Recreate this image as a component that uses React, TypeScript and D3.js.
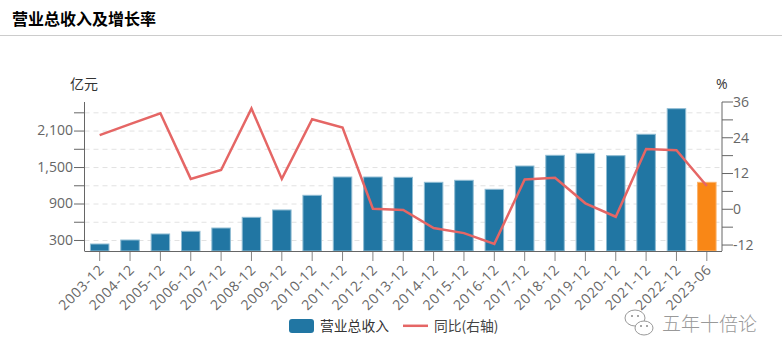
import React from "react";
import * as d3 from "d3";

const categories = ["2003-12","2004-12","2005-12","2006-12","2007-12","2008-12","2009-12","2010-12","2011-12","2012-12","2013-12","2014-12","2015-12","2016-12","2017-12","2018-12","2019-12","2020-12","2021-12","2022-12","2023-06"];
const revenue = [242,308,407,451,505,681,802,1043,1344,1344,1339,1257,1290,1142,1525,1701,1734,1695,2047,2468,1257];
const growth = [24.9,28.6,32.2,10.2,13.2,33.8,10.2,30.2,27.4,0.2,-0.2,-6.3,-8,-11.6,10,10.6,2,-2.5,20.2,19.8,7.8];
const leftTicks = [300,600,900,1200,1500,1800,2100,2400];
const leftLabels = [300,900,1500,2100];
const rightTicks = [-12,-6,0,6,12,18,24,30,36];
const rightLabels = [-12,0,12,24,36];

const font = "'Open Sans','Noto Sans CJK SC',sans-serif";
const cjk = "'Noto Sans CJK SC',sans-serif";
const L = 84.5, R = 722, T = 102, B = 251;
const axisColor = "#666";

export default function App() {
  const x = d3.scaleBand<string>().domain(categories).range([L, R]).paddingInner(0.39).paddingOuter(0.195);
  const yL = d3.scaleLinear().domain([127, 2578]).range([B, T]);
  const yR = d3.scaleLinear().domain([-14, 36]).range([B, T]);
  const cx = (c: string) => (x(c) as number) + x.bandwidth() / 2;
  const line = d3.line<number>().x((_, i) => cx(categories[i])).y((d) => yR(d));
  const fmt = d3.format(",");
  return (
    <svg width={782} height={358} style={{ position: "fixed", left: 0, top: 0, background: "#fff" }} fontFamily={font}>
      <text x={12} y={25} fontFamily={cjk} fontSize={16} fontWeight={700} fill="#000">营业总收入及增长率</text>
      <line x1={0} x2={782} y1={35.5} y2={35.5} stroke="#ccc" />

      {leftTicks.map((t) => (
        <line key={t} x1={L} x2={R} y1={yL(t)} y2={yL(t)} stroke="#e2e2e2" strokeDasharray="5 4" />
      ))}

      {categories.map((c, i) => (
        <rect key={c} x={x(c)} y={yL(revenue[i])} width={x.bandwidth()} height={B - yL(revenue[i])}
          fill={i === categories.length - 1 ? "#f98716" : "#2176a3"}
          stroke={i === categories.length - 1 ? "#fbb36c" : "#8fbcd3"} strokeWidth={1} />
      ))}

      <path d={line(growth) as string} fill="none" stroke="#e56665" strokeWidth={2.5} />

      <line x1={L} x2={L} y1={T} y2={B} stroke={axisColor} />
      <line x1={R} x2={R} y1={T} y2={B} stroke={axisColor} />
      <line x1={L} x2={R} y1={B + 0.5} y2={B + 0.5} stroke={axisColor} />

      {leftTicks.map((t) => (
        <line key={t} x1={74} x2={L} y1={yL(t)} y2={yL(t)} stroke={axisColor} />
      ))}
      {leftLabels.map((t) => (
        <text key={t} x={73} y={yL(t) - 0.5} dy="0.35em" textAnchor="end" fontSize={14} fill={axisColor}>{fmt(t)}</text>
      ))}
      {rightTicks.map((t) => (
        <line key={t} x1={R} x2={R + 11} y1={yR(t)} y2={yR(t)} stroke={axisColor} />
      ))}
      {rightLabels.map((t) => (
        <text key={t} x={733} y={yR(t)} dy="0.35em" fontSize={14} fill={axisColor}>{t}</text>
      ))}

      {categories.map((c) => (
        <g key={c}>
          <line x1={cx(c)} x2={cx(c)} y1={B} y2={B + 10} stroke={axisColor} strokeOpacity={0.8} />
          <text transform={`translate(${cx(c) + 2},${B + 16}) rotate(-45)`} textAnchor="end" dy="0.35em" fontSize={14} letterSpacing={0.7} fill={axisColor}>{c}</text>
        </g>
      ))}

      <text x={70} y={89} fontFamily={cjk} fontSize={14} fill="#333">亿元</text>
      <text x={716} y={89} fontSize={14} fill="#333">%</text>

      <rect x={289} y={319} width={25} height={14} rx={3} fill="#2176a3" />
      <text x={320} y={330.5} fontFamily={cjk} fontSize={13.8} fill="#333">营业总收入</text>
      <line x1={403} x2={428} y1={325.8} y2={325.8} stroke="#e56665" strokeWidth={2.5} />
      <text x={434} y={330.5} fontFamily={cjk} fontSize={13.8} fill="#444">同比(右轴)</text>

      <g fill="#fff" stroke="#999" strokeWidth={1}>
        <ellipse cx={635} cy={318} rx={10} ry={8} />
        <ellipse cx={644} cy={328} rx={9} ry={7} />
      </g>
      <g fill="#888">
        <circle cx={632} cy={316} r={1} />
        <circle cx={638} cy={316} r={1} />
        <circle cx={641} cy={326} r={1} />
        <circle cx={647} cy={326} r={1} />
      </g>
      <text x={662} y={331} fontFamily={cjk} fontSize={19} fontWeight={300} fill="#999">五年十倍论</text>
    </svg>
  );
}
